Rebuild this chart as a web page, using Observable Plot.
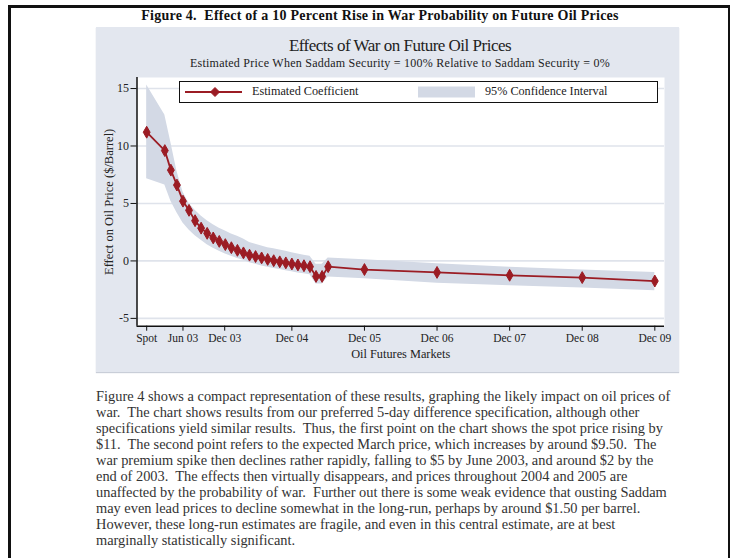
<!DOCTYPE html>
<html>
<head>
<meta charset="utf-8">
<script src="https://cdn.jsdelivr.net/npm/d3@7"></script>
<script src="https://cdn.jsdelivr.net/npm/@observablehq/plot@0.6"></script>
<style>
  html, body { margin: 0; padding: 0; background: #ffffff; }
  body { width: 735px; height: 558px; position: relative; overflow: hidden; font-family: "Liberation Serif", "DejaVu Serif", serif; }
  .abs { position: absolute; }
  #frame { left: 8px; top: 5px; width: 722px; height: 560px; border-left: 3px solid #111; border-top: 3px solid #111; border-right: 2px solid #111; box-sizing: border-box; }
  #figtitle { left: 100px; top: 8px; width: 560px; text-align: center; font-weight: bold; font-size: 14px; letter-spacing: 0.25px; white-space: pre; color: #111; }
  #panel { left: 96px; top: 27px; width: 583px; height: 345px; background: #e3e7ef; box-shadow: 0 1px 1px #c9ced8; }
  #ctitle { left: 136px; top: 36px; width: 528px; text-align: center; font-size: 17px; letter-spacing: -0.5px; color: #222; }
  #csub { left: 100px; top: 56px; width: 600px; text-align: center; font-size: 12px; letter-spacing: 0.25px; color: #222; white-space: pre; }
  #chart { left: 96px; top: 70px; }
  #legend { left: 179px; top: 81px; width: 479px; height: 22px; background: #fff; border: 1.5px solid #111; box-sizing: border-box; font-size: 12.2px; color: #222; }
  #legend .lab { position: absolute; top: 2px; }
  #para { left: 96px; top: 388px; font-size: 14.4px; line-height: 16px; color: #333; white-space: pre; }
</style>
</head>
<body>
<div id="frame" class="abs"></div>
<div id="figtitle" class="abs">Figure 4.  Effect of a 10 Percent Rise in War Probability on Future Oil Prices</div>
<div id="panel" class="abs"></div>
<div id="ctitle" class="abs">Effects of War on Future Oil Prices</div>
<div id="csub" class="abs">Estimated Price When Saddam Security = 100% Relative to Saddam Security = 0%</div>
<div id="chart" class="abs"></div>
<div id="legend" class="abs"></div>
<div id="para" class="abs"></div>
<script>
// ---- data ----
const contractMonth = [0,3,4,5,6,7,8,9,10,11,12,13,14,15,16,17,18,19,20,21,22,23,24,25,26,27,28,29,30,36,48,60,72,84];
const coefficient   = [11.2,9.6,7.9,6.6,5.2,4.4,3.5,2.85,2.4,2.0,1.7,1.42,1.15,0.92,0.7,0.5,0.38,0.26,0.13,0.02,-0.08,-0.17,-0.27,-0.35,-0.42,-0.5,-1.35,-1.35,-0.5,-0.75,-1.0,-1.25,-1.45,-1.75];
const ciUpper       = [15.3,12.7,10.3,7.8,6.0,5.0,4.4,3.9,3.5,3.15,2.85,2.6,2.35,2.15,1.9,1.6,1.45,1.3,1.15,1.05,0.95,0.85,0.72,0.6,0.5,0.4,-0.3,-0.3,0.25,0.1,-0.25,-0.55,-0.8,-1.0];
const ciLower       = [7.15,6.6,5.2,4.2,3.3,2.7,2.2,1.8,1.4,1.1,0.85,0.6,0.4,0.2,0.05,-0.15,-0.3,-0.45,-0.55,-0.65,-0.75,-0.85,-0.95,-1.05,-1.12,-1.2,-2.0,-2.0,-1.4,-1.55,-1.95,-2.15,-2.35,-2.6];
const xTickPos    = [0, 6, 12.9, 24, 36, 48, 60, 72, 84];
const xTickLabels = ["Spot","Jun 03","Dec 03","Dec 04","Dec 05","Dec 06","Dec 07","Dec 08","Dec 09"];
const yTicks      = [-5, 0, 5, 10, 15];
const xDomain = [-1.6, 85.6];
const yDomain = [-5.68, 15.96];

const rows = contractMonth.map((m, i) => ({m, coef: coefficient[i], hi: ciUpper[i], lo: ciLower[i]}));
const lineColor = "#9b1c24";
const bandColor = "#d3d9e5";
const labelOf = new Map(xTickPos.map((p, i) => [p, xTickLabels[i]]));

const plot = Plot.plot({
  width: 583,
  height: 302,
  marginLeft: 40.5,
  marginRight: 15,
  marginTop: 7,
  marginBottom: 46.3,
  style: {background: "transparent", fontFamily: "Liberation Serif", fontSize: "12px", color: "#222"},
  x: {domain: xDomain},
  y: {domain: yDomain},
  marks: [
    Plot.frame({fill: "white", stroke: null}),
    Plot.gridY(yTicks, {stroke: "#dfe3eb", strokeOpacity: 1, strokeWidth: 1.6}),
    Plot.areaY(rows, {x: "m", y1: "lo", y2: "hi", fill: bandColor, fillOpacity: 1}),
    Plot.line(rows, {x: "m", y: "coef", stroke: lineColor, strokeWidth: 1.8}),
    Plot.dot(rows, {x: "m", y: "coef", symbol: "diamond", r: 3.6, fill: lineColor, stroke: lineColor, strokeWidth: 1, strokeLinejoin: "round"}),
    Plot.ruleX([xDomain[0]], {stroke: "#111", strokeWidth: 1.5}),
    Plot.ruleY([yDomain[0]], {stroke: "#111", strokeWidth: 1.5}),
    Plot.axisY({ticks: yTicks, tickSize: 6, tickPadding: 2, tickFormat: d => d, label: null, stroke: "#111", fontSize: 12}),
    Plot.axisX({ticks: xTickPos, tickSize: 5, tickPadding: 3, tickFormat: d => labelOf.get(d), label: null, stroke: "#111", fontSize: 11.5}),
    Plot.text(["Effect on Oil Price ($/Barrel)"], {frameAnchor: "left", textAnchor: "middle", lineAnchor: "middle", rotate: -90, dx: -28, fontSize: 12.5, fill: "#222"}),
    Plot.text(["Oil Futures Markets"], {frameAnchor: "bottom", textAnchor: "middle", lineAnchor: "middle", dy: 28, fontSize: 12.3, fill: "#222"})
  ]
});
document.getElementById("chart").appendChild(plot);

// legend
const legend = document.getElementById("legend");
legend.innerHTML =
  `<svg width="476" height="19" style="position:absolute;left:0;top:0">
     <line x1="5" y1="10" x2="62" y2="10" stroke="${lineColor}" stroke-width="2"/>
     <path d="M35,5.5 L39.5,10 L35,14.5 L30.5,10 Z" fill="${lineColor}" stroke="${lineColor}" stroke-linejoin="round"/>
     <rect x="238" y="4.5" width="57" height="11" fill="${bandColor}"/>
   </svg>
   <span class="lab" style="left:72px">Estimated Coefficient</span>
   <span class="lab" style="left:305px">95% Confidence Interval</span>`;

// paragraph text
const paragraphLines = [
  "Figure 4 shows a compact representation of these results, graphing the likely impact on oil prices of",
  "war.  The chart shows results from our preferred 5-day difference specification, although other",
  "specifications yield similar results.  Thus, the first point on the chart shows the spot price rising by",
  "$11.  The second point refers to the expected March price, which increases by around $9.50.  The",
  "war premium spike then declines rather rapidly, falling to $5 by June 2003, and around $2 by the",
  "end of 2003.  The effects then virtually disappears, and prices throughout 2004 and 2005 are",
  "unaffected by the probability of war.  Further out there is some weak evidence that ousting Saddam",
  "may even lead prices to decline somewhat in the long-run, perhaps by around $1.50 per barrel.",
  "However, these long-run estimates are fragile, and even in this central estimate, are at best",
  "marginally statistically significant."
];
document.getElementById("para").textContent = paragraphLines.join("\n");
</script>
</body>
</html>
